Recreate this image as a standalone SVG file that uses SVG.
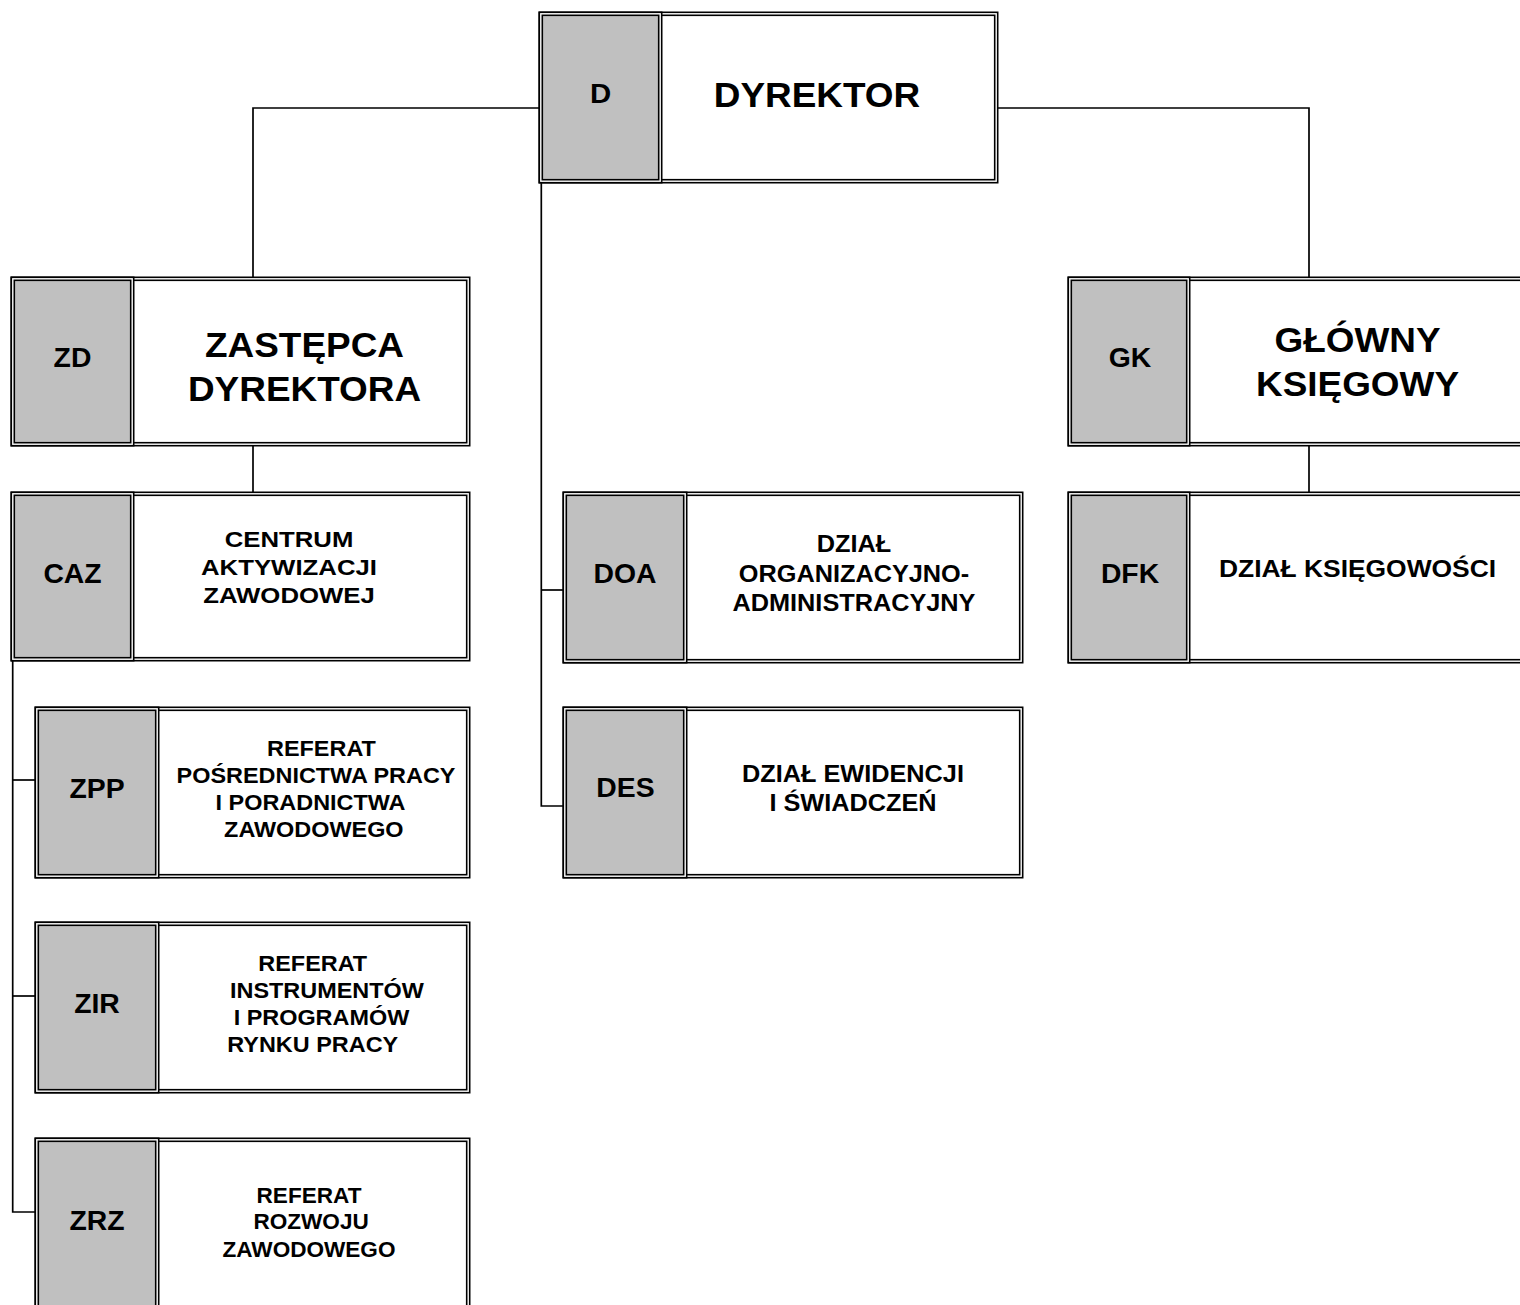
<svg xmlns="http://www.w3.org/2000/svg" width="1520" height="1305" viewBox="0 0 1520 1305">
<style>
.bg{fill:#ffffff}
.o{stroke:#000;stroke-width:4.6;}
.i{fill:none;stroke:#fff;stroke-width:1.4}
.w{fill:#fff}
.g{fill:#c0c0c0}
.c{fill:none;stroke:#000;stroke-width:1.7}
text{font-family:"Liberation Sans",Arial,sans-serif;font-weight:bold;fill:#000;text-anchor:middle}
.lab{font-size:27px}
.big{font-size:35.5px}
.s23{font-size:23px}
.s22{font-size:21.5px}
.s24{font-size:24px}
</style>
<rect class="bg" x="0" y="0" width="1520" height="1305"/>
<g id="connectors">
<path class="c" d="M540,108 H253 V278"/>
<path class="c" d="M997,108 H1309 V278"/>
<path class="c" d="M253,446 V492"/>
<path class="c" d="M1309,446 V492"/>
<path class="c" d="M541.3,183 V806 H564"/>
<path class="c" d="M541.3,590 H564"/>
<path class="c" d="M12.7,661 V1212 H36"/>
<path class="c" d="M12.7,780 H36"/>
<path class="c" d="M12.7,996 H36"/>
</g>
<g id="node-D">
<rect class="o w" x="540.8" y="13.8" width="455.4" height="167.4"/><rect class="i" x="540.8" y="13.8" width="455.4" height="167.4"/>
<rect class="o g" x="540.8" y="13.8" width="119.4" height="167.4"/><rect class="i" x="540.8" y="13.8" width="119.4" height="167.4"/>
<text class="lab" transform="translate(600.5,0) scale(1.05,1)" x="0" y="103" style="font-size:28px">D</text>
<text class="big" transform="translate(817,0) scale(1.04,1)" x="0" y="107">DYREKTOR</text>
</g>
<g id="node-ZD">
<rect class="o w" x="12.8" y="278.8" width="455.4" height="165.4"/><rect class="i" x="12.8" y="278.8" width="455.4" height="165.4"/>
<rect class="o g" x="12.8" y="278.8" width="119.4" height="165.4"/><rect class="i" x="12.8" y="278.8" width="119.4" height="165.4"/>
<text class="lab" transform="translate(72.5,0) scale(1.05,1)" x="0" y="367">ZD</text>
<text class="big" transform="translate(304.5,0) scale(1.04,1)"><tspan x="0" y="357">ZASTĘPCA</tspan><tspan x="0" y="401">DYREKTORA</tspan></text>
</g>
<g id="node-GK">
<rect class="o w" x="1069.8" y="278.8" width="465.4" height="165.4"/><rect class="i" x="1069.8" y="278.8" width="465.4" height="165.4"/>
<rect class="o g" x="1069.8" y="278.8" width="118.4" height="165.4"/><rect class="i" x="1069.8" y="278.8" width="118.4" height="165.4"/>
<text class="lab" transform="translate(1130,0) scale(1.05,1)" x="0" y="367">GK</text>
<text class="big" transform="translate(1357.5,0) scale(1.04,1)"><tspan x="0" y="352">GŁÓWNY</tspan><tspan x="0" y="396">KSIĘGOWY</tspan></text>
</g>
<g id="node-CAZ">
<rect class="o w" x="12.8" y="493.8" width="455.4" height="165.4"/><rect class="i" x="12.8" y="493.8" width="455.4" height="165.4"/>
<rect class="o g" x="12.8" y="493.8" width="119.4" height="165.4"/><rect class="i" x="12.8" y="493.8" width="119.4" height="165.4"/>
<text class="lab" transform="translate(72.5,0) scale(1.05,1)" x="0" y="583">CAZ</text>
<text class="s23" transform="translate(289,0) scale(1.12,1)"><tspan x="0" y="547">CENTRUM</tspan><tspan x="0" y="575">AKTYWIZACJI</tspan><tspan x="0" y="603">ZAWODOWEJ</tspan></text>
</g>
<g id="node-ZPP">
<rect class="o w" x="36.8" y="708.8" width="431.4" height="167.4"/><rect class="i" x="36.8" y="708.8" width="431.4" height="167.4"/>
<rect class="o g" x="36.8" y="708.8" width="120.4" height="167.4"/><rect class="i" x="36.8" y="708.8" width="120.4" height="167.4"/>
<text class="lab" transform="translate(97,0) scale(1.05,1)" x="0" y="798">ZPP</text>
<text class="s22" transform="translate(316,0) scale(1.09,1)"><tspan x="5" y="756">REFERAT</tspan><tspan x="0" y="783">POŚREDNICTWA PRACY</tspan><tspan x="-5" y="810">I PORADNICTWA</tspan><tspan x="-2" y="837">ZAWODOWEGO</tspan></text>
</g>
<g id="node-ZIR">
<rect class="o w" x="36.8" y="923.8" width="431.4" height="167.4"/><rect class="i" x="36.8" y="923.8" width="431.4" height="167.4"/>
<rect class="o g" x="36.8" y="923.8" width="120.4" height="167.4"/><rect class="i" x="36.8" y="923.8" width="120.4" height="167.4"/>
<text class="lab" transform="translate(97,0) scale(1.05,1)" x="0" y="1013">ZIR</text>
<text class="s22" transform="translate(316,0) scale(1.09,1)"><tspan x="-3" y="971">REFERAT</tspan><tspan x="10" y="998">INSTRUMENTÓW</tspan><tspan x="5" y="1025">I PROGRAMÓW</tspan><tspan x="-3" y="1052">RYNKU PRACY</tspan></text>
</g>
<g id="node-ZRZ">
<rect class="o w" x="36.8" y="1139.8" width="431.4" height="200"/><rect class="i" x="36.8" y="1139.8" width="431.4" height="200"/>
<rect class="o g" x="36.8" y="1139.8" width="120.4" height="200"/><rect class="i" x="36.8" y="1139.8" width="120.4" height="200"/>
<text class="lab" transform="translate(97,0) scale(1.05,1)" x="0" y="1230">ZRZ</text>
<text class="s22" transform="translate(309,0) scale(1.05,1)"><tspan x="0" y="1203">REFERAT</tspan><tspan x="2" y="1229">ROZWOJU</tspan><tspan x="0" y="1257">ZAWODOWEGO</tspan></text>
</g>
<g id="node-DOA">
<rect class="o w" x="564.8" y="493.8" width="456.4" height="167.4"/><rect class="i" x="564.8" y="493.8" width="456.4" height="167.4"/>
<rect class="o g" x="564.8" y="493.8" width="120.4" height="167.4"/><rect class="i" x="564.8" y="493.8" width="120.4" height="167.4"/>
<text class="lab" transform="translate(625,0) scale(1.05,1)" x="0" y="583">DOA</text>
<text class="s23" transform="translate(854,0) scale(1.1,1)"><tspan x="0" y="552">DZIAŁ</tspan><tspan x="0" y="582">ORGANIZACYJNO-</tspan><tspan x="0" y="611">ADMINISTRACYJNY</tspan></text>
</g>
<g id="node-DES">
<rect class="o w" x="564.8" y="708.8" width="456.4" height="167.4"/><rect class="i" x="564.8" y="708.8" width="456.4" height="167.4"/>
<rect class="o g" x="564.8" y="708.8" width="120.4" height="167.4"/><rect class="i" x="564.8" y="708.8" width="120.4" height="167.4"/>
<text class="lab" transform="translate(625.5,0) scale(1.05,1)" x="0" y="797">DES</text>
<text class="s23" transform="translate(853,0) scale(1.1,1)"><tspan x="0" y="782">DZIAŁ EWIDENCJI</tspan><tspan x="0" y="811">I ŚWIADCZEŃ</tspan></text>
</g>
<g id="node-DFK">
<rect class="o w" x="1069.8" y="493.8" width="465.4" height="167.4"/><rect class="i" x="1069.8" y="493.8" width="465.4" height="167.4"/>
<rect class="o g" x="1069.8" y="493.8" width="118.4" height="167.4"/><rect class="i" x="1069.8" y="493.8" width="118.4" height="167.4"/>
<text class="lab" transform="translate(1130,0) scale(1.05,1)" x="0" y="583">DFK</text>
<text class="s24" transform="translate(1357.5,0) scale(1.1,1)" x="0" y="577">DZIAŁ KSIĘGOWOŚCI</text>
</g>
</svg>
